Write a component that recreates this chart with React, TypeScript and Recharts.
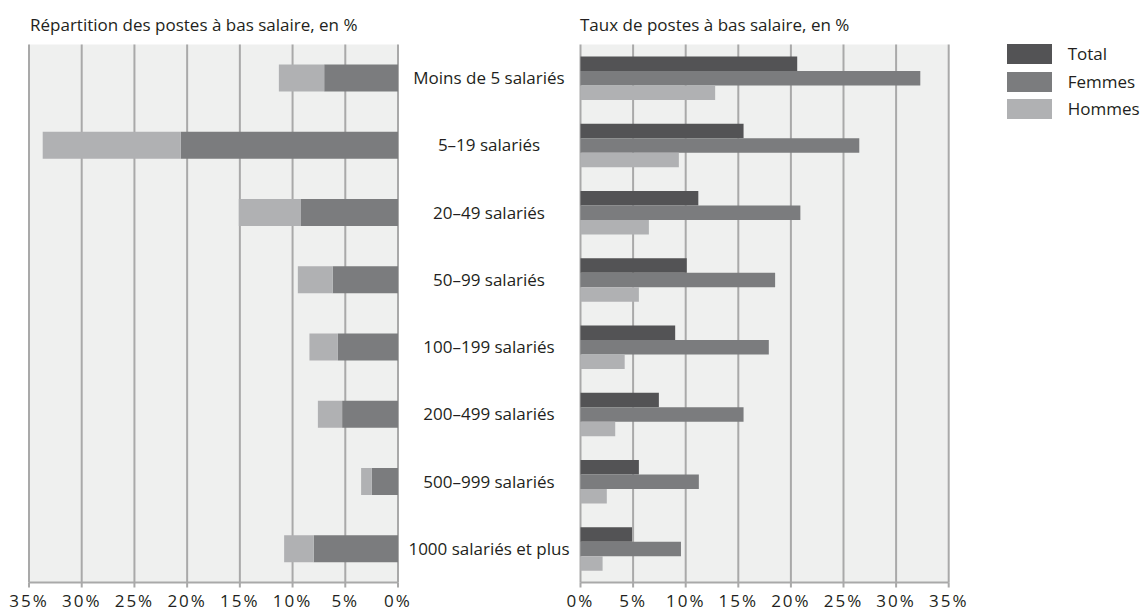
import React from "react";
import { BarChart, Bar, XAxis, YAxis, CartesianGrid, Legend } from "recharts";

const categories = [
  "Moins de 5 salariés",
  "5–19 salariés",
  "20–49 salariés",
  "50–99 salariés",
  "100–199 salariés",
  "200–499 salariés",
  "500–999 salariés",
  "1000 salariés et plus",
];
const repFemmes = [7.0, 20.6, 9.2, 6.2, 5.7, 5.3, 2.5, 8.0];
const repHommes = [4.3, 13.1, 5.9, 3.3, 2.7, 2.3, 1.0, 2.8];
const tauxTotal = [20.6, 15.5, 11.2, 10.1, 9.0, 7.45, 5.55, 4.9];
const tauxFemmes = [32.3, 26.5, 20.9, 18.5, 17.9, 15.5, 11.25, 9.55];
const tauxHommes = [12.8, 9.35, 6.5, 5.55, 4.2, 3.3, 2.5, 2.1];
const ticks = [0, 5, 10, 15, 20, 25, 30, 35];

const leftTitle = "Répartition des postes à bas salaire, en %";
const rightTitle = "Taux de postes à bas salaire, en %";

const C_TOTAL = "#535355";
const C_FEM = "#7b7c7e";
const C_HOM = "#b0b1b3";
const BG = "#eff0ef";
const GRID = "#a9a9a9";
const TEXT = "#231f20";
const FONT = "'Open Sans', sans-serif";

const leftData = categories.map((name, i) => ({
  name,
  Femmes: repFemmes[i],
  Hommes: repHommes[i],
}));
const rightData = categories.map((name, i) => ({
  name,
  Total: tauxTotal[i],
  Femmes: tauxFemmes[i],
  Hommes: tauxHommes[i],
}));

const tickStyle = { fontSize: 17, fill: TEXT, fontFamily: FONT, letterSpacing: 2 };

const CategoryTick = (props: any) => {
  const { x, y, payload } = props;
  return (
    <text
      x={x + 91}
      y={y}
      dy="0.36em"
      textAnchor="middle"
      fontSize={17}
      fill={TEXT}
      fontFamily={FONT}
    >
      {payload.value}
    </text>
  );
};

const LegendContent = () => {
  const items = [
    { name: "Total", color: C_TOTAL },
    { name: "Femmes", color: C_FEM },
    { name: "Hommes", color: C_HOM },
  ];
  return (
    <div style={{ fontFamily: FONT, fontSize: 17, color: TEXT }}>
      {items.map((it) => (
        <div
          key={it.name}
          style={{ display: "flex", alignItems: "center", height: 20, marginBottom: 7.5 }}
        >
          <div style={{ width: 45, height: 20, background: it.color }} />
          <span style={{ marginLeft: 16, lineHeight: "20px" }}>{it.name}</span>
        </div>
      ))}
    </div>
  );
};

const titleStyle: React.CSSProperties = {
  position: "absolute",
  top: 16,
  fontFamily: FONT,
  fontSize: 17,
  lineHeight: "17px",
  color: TEXT,
  whiteSpace: "nowrap",
};

export default function App() {
  return (
    <div style={{ position: "absolute", left: 0, top: 0, width: 1141, height: 612, background: "#fff" }}>
      <div style={{ ...titleStyle, left: 30 }}>{leftTitle}</div>
      <div style={{ ...titleStyle, left: 580 }}>{rightTitle}</div>

      <div style={{ position: "absolute", left: 0, top: 0 }}>
        <BarChart
          width={580}
          height={612}
          data={leftData}
          layout="vertical"
          margin={{ top: 44.5, right: 0, bottom: 0, left: 29 }}
          barSize={27}
        >
          <CartesianGrid horizontal={false} fill={BG} stroke={GRID} strokeWidth={2} />
          <XAxis
            type="number"
            domain={[0, 35]}
            ticks={ticks}
            reversed
            tickFormatter={(v) => `${v}%`}
            height={29.5}
            tickSize={5}
            tickMargin={7}
            stroke={GRID}
            strokeWidth={2}
            tick={tickStyle}
          />
          <XAxis
            xAxisId="top"
            orientation="top"
            type="number"
            domain={[0, 35]}
            reversed
            height={0}
            tick={false}
            tickLine={false}
            stroke={GRID}
            strokeWidth={2}
          />
          <YAxis
            type="category"
            dataKey="name"
            orientation="right"
            width={182}
            axisLine={false}
            tickLine={false}
            tickSize={0}
            tickMargin={0}
            interval={0}
            tick={<CategoryTick />}
          />
          <Bar dataKey="Femmes" stackId="a" fill={C_FEM} isAnimationActive={false} />
          <Bar dataKey="Hommes" stackId="a" fill={C_HOM} isAnimationActive={false} />
        </BarChart>
      </div>

      <div style={{ position: "absolute", left: 560, top: 0 }}>
        <BarChart
          width={581}
          height={612}
          data={rightData}
          layout="vertical"
          margin={{ top: 44.5, right: 192.3, bottom: 0, left: 20.5 }}
          barSize={14.5}
          barGap={0}
        >
          <CartesianGrid horizontal={false} fill={BG} stroke={GRID} strokeWidth={2} />
          <XAxis
            type="number"
            domain={[0, 35]}
            ticks={ticks}
            tickFormatter={(v) => `${v}%`}
            height={29.5}
            tickSize={5}
            tickMargin={7}
            stroke={GRID}
            strokeWidth={2}
            tick={tickStyle}
          />
          <XAxis
            xAxisId="top"
            orientation="top"
            type="number"
            domain={[0, 35]}
            height={0}
            tick={false}
            tickLine={false}
            stroke={GRID}
            strokeWidth={2}
          />
          <YAxis type="category" dataKey="name" hide />
          <Legend
            layout="vertical"
            align="center"
            verticalAlign="middle"
            content={<LegendContent />}
            wrapperStyle={{ left: 446.7, top: 44, width: 134 }}
          />
          <Bar dataKey="Total" fill={C_TOTAL} isAnimationActive={false} />
          <Bar dataKey="Femmes" fill={C_FEM} isAnimationActive={false} />
          <Bar dataKey="Hommes" fill={C_HOM} isAnimationActive={false} />
        </BarChart>
      </div>
    </div>
  );
}
